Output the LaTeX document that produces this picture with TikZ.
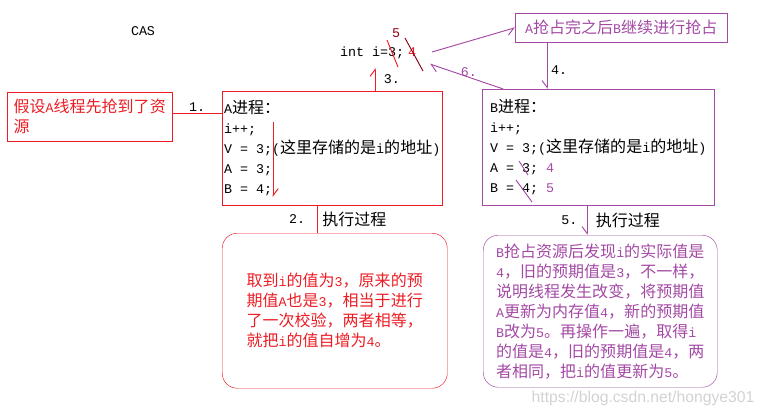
\documentclass[tikz,border=0pt]{standalone}
\usepackage{fontspec}
\setmainfont{Noto Sans CJK SC}
\newfontfamily\codefont{Liberation Mono}[Scale=0.833]
\newfontfamily\markfont{Liberation Sans}
\usetikzlibrary{arrows.meta, positioning}
\definecolor{paintred}{HTML}{ED1C24}
\definecolor{paintpurple}{HTML}{A349A4}
\definecolor{paintmaroon}{HTML}{880015}
\newcommand{\cd}[1]{{\codefont #1}}
\tikzset{
  txt/.style={
    font=\fontsize{13.66}{17.07}\selectfont,
    inner sep=1pt
  },
  procbox/.style={
    draw,
    rectangle,
    txt,
    align=left,
    anchor=north west,
    inner sep=0pt
  },
  notebox/.style={
    procbox,
    rounded corners=0.45cm
  },
  link/.style={
    line width=0.8pt
  },
  barbl/.style={
    link,
    -{Straight Barb[left,length=6pt,width=9pt]}
  },
  barbr/.style={
    link,
    -{Straight Barb[right,length=6pt,width=9pt]}
  },
  strike/.style={
    line width=0.8pt
  }
}

\begin{document}
\begin{tikzpicture}[x=0.03cm, y=-0.03cm]
  \useasboundingbox (0,0) rectangle (763,416);

  \node[txt] (cas) at (143,31) {\cd{CAS}};
  \node[txt, anchor=west, inner sep=0pt] (intvar) at (340,53) {\cd{int i=3;}};
  \node[txt, paintmaroon] (fiveval) at (396,33) {\cd{5}};
  \node[txt, paintred] (fourval) at (412,52) {\cd{4}};

  \node[procbox, paintred, minimum width=4.95cm, minimum height=1.47cm] (assume) at (7,92)
    {假设\cd{A}线程先抢到了资\\源};
  \node[procbox, paintred, text=black, minimum width=6.6cm, minimum height=3.42cm] (procA) at (222,91)
    {\cd{A}进程：\\\cd{i++;}\\\cd{V = 3;(}这里存储的是\cd{i}的地址\cd{)}\\\cd{A = 3;}\\\cd{B = 4;}};
  \node[procbox, paintpurple, minimum width=6.36cm, minimum height=0.87cm] (goal) at (515,13)
    {\cd{A}抢占完之后\cd{B}继续进行抢占};
  \node[procbox, paintpurple, text=black, minimum width=6.96cm, minimum height=3.48cm] (procB) at (482,89)
    {\cd{B}进程：\\\cd{i++;}\\\cd{V = 3;(}这里存储的是\cd{i}的地址\cd{)}\\\cd{A = 3; \textcolor{paintpurple}{4}}\\\cd{B = 4; \textcolor{paintpurple}{5}}};
  \node[notebox, paintred, minimum width=6.75cm, minimum height=4.65cm] (checkA) at (222,233)
    {取到\cd{i}的值为\cd{3}，原来的预\\期值\cd{A}也是\cd{3}，相当于进行\\了一次校验，两者相等，\\就把\cd{i}的值自增为\cd{4}。};
  \node[notebox, paintpurple, minimum width=7.02cm, minimum height=4.56cm] (checkB) at (483,235)
    {\cd{B}抢占资源后发现\cd{i}的实际值是\\\cd{4}，旧的预期值是\cd{3}，不一样，\\说明线程发生改变，将预期值\\\cd{A}更新为内存值\cd{4}，新的预期值\\\cd{B}改为\cd{5}。再操作一遍，取得\cd{i}\\的值是\cd{4}，旧的预期值是\cd{4}，两\\者相同，把\cd{i}的值更新为\cd{5}。};

  \coordinate (runA) at (273,122);
  \coordinate (push) at (432,52);
  \coordinate (back) at (430,64);

  \draw[link, paintred] ([yshift=0.105cm]assume.east) -- node[above, txt, black] {\cd{1.}} ([yshift=0.105cm]assume.east -| procA.west);
  \draw[link, paintred] ([xshift=-0.45cm]procA.south) --
    node[left=9pt, txt, black] {\cd{2.}} node[right=3pt, txt, black] {执行过程}
    ([xshift=-0.45cm]procA.south |- checkA.north);
  \draw[barbl, paintred] ([xshift=1.29cm]procA.north) -- node[right=6pt, txt, black] {\cd{3.}} ++(0,-23);
  \draw[barbl, paintred] (runA) -- ++(0,75);
  \draw[barbr, paintpurple] (push) -- (goal.west);
  \draw[barbr, paintpurple] ([xshift=-2.22cm]goal.south) -- node[pos=0.6, right=2pt, txt, black] {\cd{4.}} ([xshift=-2.22cm]goal.south |- procB.north);
  \draw[barbr, paintpurple] ([xshift=-0.33cm]procB.south) --
    node[left=7pt, txt, black] {\cd{5.}} node[right=6pt, txt, black] {执行过程}
    ([xshift=-0.33cm]procB.south |- checkB.north);
  \draw[barbl, paintpurple] ([xshift=-2.85cm]procB.north) -- node[pos=0.47, above=-1pt, txt] {\cd{6.}} (back);

  \draw[strike, paintred] (387,40) -- (398,67);
  \draw[strike, paintmaroon] (405,38) -- (423,71);
  \draw[strike, paintpurple] (519,161) -- (528,175);
  \draw[strike, paintpurple] (516,180) -- (532,202);

  \node[font=\markfont\fontsize{13.4}{16}\selectfont, text=gray!35] (mark) at (643,398) {https://blog.csdn.net/hongye301};
\end{tikzpicture}
\end{document}
